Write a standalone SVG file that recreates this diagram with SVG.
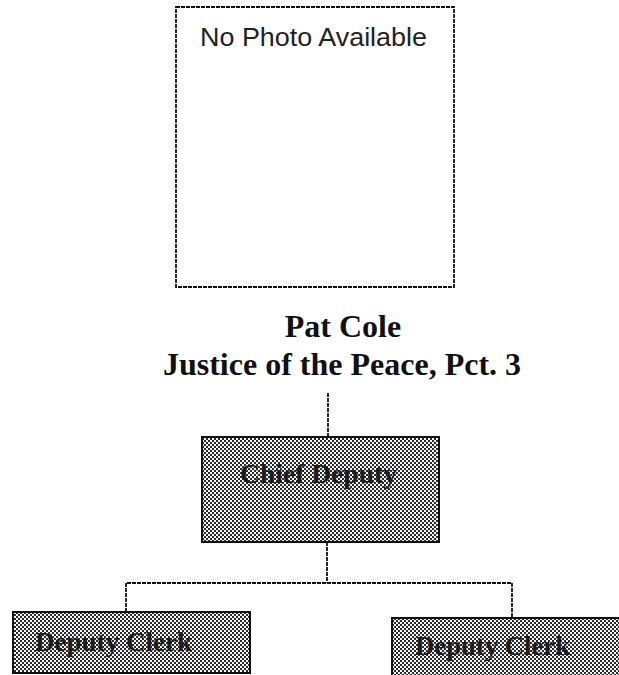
<svg xmlns="http://www.w3.org/2000/svg" width="619" height="675" viewBox="0 0 619 675">
  <style>
    .edge { fill: none; stroke: #111; stroke-width: 1.8; stroke-dasharray: 4 1; }
    .box { fill: url(#halftone); stroke: #111; stroke-width: 2; }
    .photo { fill: #fff; stroke: #111; stroke-width: 1.8; stroke-dasharray: 4 1; }
    .title { font-family: "Liberation Serif", "Times New Roman", serif; font-weight: bold; font-size: 32px; fill: #111; text-anchor: middle; }
    .label { font-family: "Liberation Serif", "Times New Roman", serif; font-weight: bold; font-size: 28px; fill: #1c1c1c; }
    .sans { font-family: "Liberation Sans", Arial, sans-serif; font-size: 26px; fill: #222; }
  </style>
  <defs>
    <pattern id="halftone" width="4" height="4" patternUnits="userSpaceOnUse">
      <rect width="4" height="4" fill="#f4f4f4"/>
      <rect x="0" y="0" width="2" height="2" fill="#2a2a2a"/>
      <rect x="2" y="2" width="2" height="2" fill="#2a2a2a"/>
    </pattern>
  </defs>
  <rect width="619" height="675" fill="#fff"/>

  <g id="connectors">
    <line class="edge" x1="328" y1="393" x2="328" y2="437"/>
    <line class="edge" x1="327" y1="542" x2="327" y2="583"/>
    <polyline class="edge" points="126,612 126,583 512,583 512,618"/>
  </g>

  <g id="photo">
    <rect class="photo" x="176" y="7" width="278" height="280"/>
    <text class="sans" x="200" y="46" textLength="227" lengthAdjust="spacingAndGlyphs">No Photo Available</text>
  </g>

  <g id="pat-cole">
    <text class="title" x="343" y="337">Pat Cole</text>
    <text class="title" x="342" y="375">Justice of the Peace, Pct. 3</text>
  </g>

  <g id="chief-deputy">
    <rect class="box" x="202" y="437" width="237" height="105"/>
    <text class="label" x="240" y="483" textLength="157" lengthAdjust="spacingAndGlyphs">Chief Deputy</text>
  </g>

  <g id="deputy-clerk-left">
    <rect class="box" x="13" y="612" width="237" height="61"/>
    <text class="label" x="35" y="651" textLength="157" lengthAdjust="spacingAndGlyphs">Deputy Clerk</text>
  </g>

  <g id="deputy-clerk-right">
    <rect class="box" x="392" y="618" width="240" height="70"/>
    <text class="label" x="415" y="655" textLength="155" lengthAdjust="spacingAndGlyphs">Deputy Clerk</text>
  </g>
</svg>
